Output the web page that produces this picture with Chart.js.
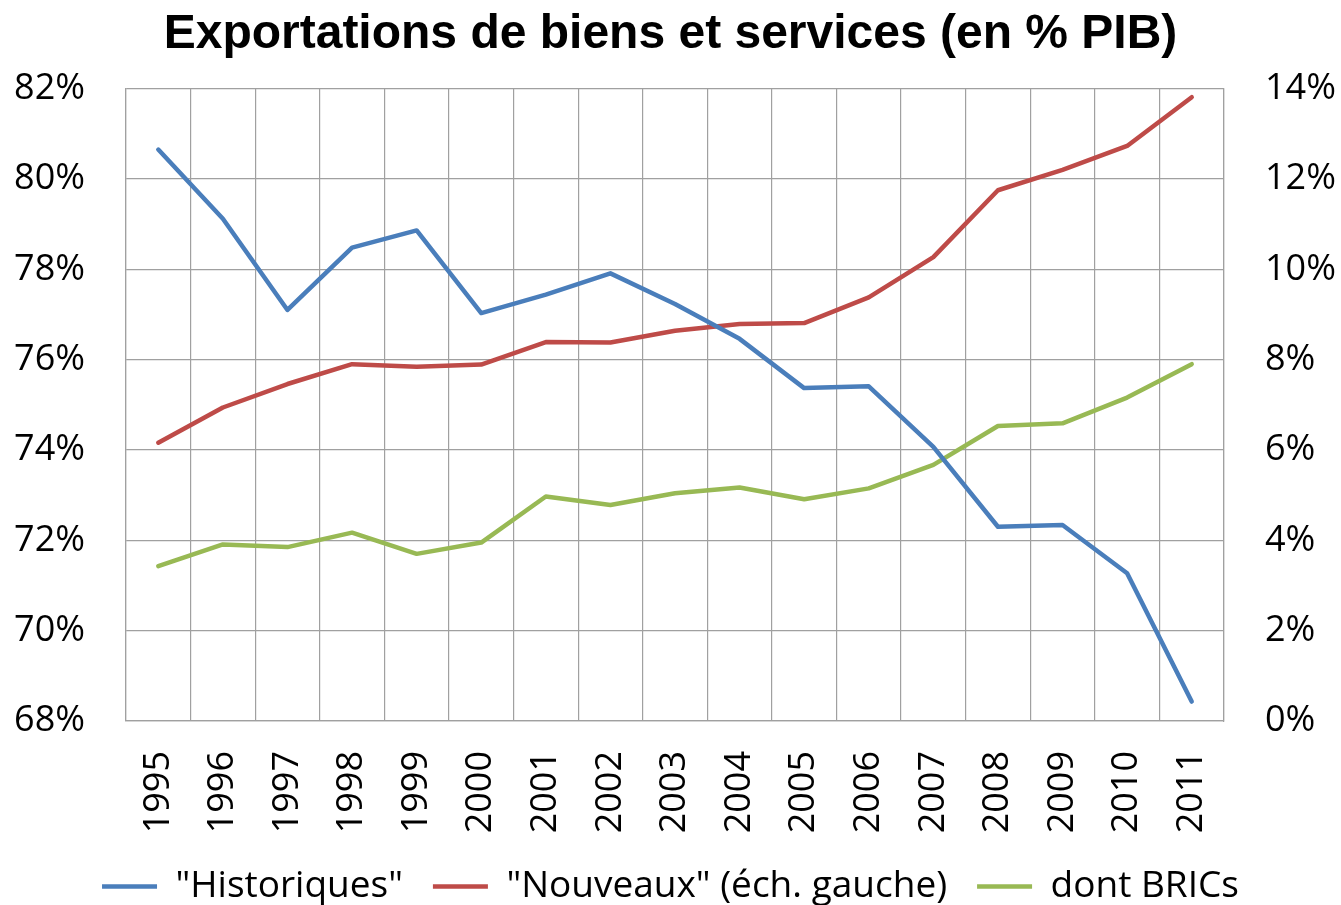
<!DOCTYPE html>
<html lang="fr">
<head>
<meta charset="utf-8">
<title>Exportations de biens et services</title>
<script src="https://cdn.jsdelivr.net/npm/chart.js@4.4.1/dist/chart.umd.min.js"></script>
<style>
  html, body { margin: 0; padding: 0; background: #fff; }
</style>
</head>
<body>
<canvas id="exportChart" width="1341" height="905"></canvas>
<script>
const years = ['1995', '1996', '1997', '1998', '1999', '2000', '2001', '2002', '2003',
  '2004', '2005', '2006', '2007', '2008', '2009', '2010', '2011'];

// right scale (%)
const historiques = [12.65, 11.12, 9.10, 10.48, 10.86, 9.03, 9.44, 9.91, 9.23,
  8.46, 7.37, 7.41, 6.07, 4.30, 4.34, 3.27, 0.43];
// left scale (%)
const nouveaux = [74.16, 74.94, 75.46, 75.90, 75.84, 75.89, 76.39, 76.38, 76.64,
  76.79, 76.81, 77.38, 78.27, 79.75, 80.20, 80.73, 81.81];
// right scale (%)
const brics = [3.43, 3.91, 3.85, 4.17, 3.70, 3.95, 4.97, 4.78, 5.04,
  5.17, 4.91, 5.15, 5.67, 6.53, 6.59, 7.16, 7.90];

const leftTicks = [68, 70, 72, 74, 76, 78, 80, 82];
const rightTicks = [0, 2, 4, 6, 8, 10, 12, 14];

const gridColor = '#a0a0a0';
const tickFont = { family: 'Open Sans', size: 36 };

Chart.defaults.color = '#000';

const exportCanvas = document.querySelector('#exportChart');

function serie(label, data, axis, color) {
  return {
    label: label,
    data: data,
    yAxisID: axis,
    borderColor: color,
    backgroundColor: color,
    borderWidth: 4.5,
    pointRadius: 0,
    pointStyle: 'line',
    tension: 0,
    borderCapStyle: 'round',
    borderJoinStyle: 'round'
  };
}

const exportChart = new Chart(exportCanvas, {
  type: 'line',
  data: {
    labels: years,
    datasets: [
      serie('"Historiques"', historiques, 'y1', '#4A7EBB'),
      serie('"Nouveaux" (éch. gauche)', nouveaux, 'y', '#BE4B48'),
      serie('dont BRICs', brics, 'y1', '#98B954')
    ]
  },
  options: {
    responsive: false,
    animation: false,
    layout: {
      padding: { top: 0, left: 0, right: 0, bottom: -10 }
    },
    scales: {
      x: {
        offset: true,
        grid: { offset: true, color: gridColor, lineWidth: 1.2, drawTicks: false },
        border: { color: gridColor, width: 1.2 },
        ticks: { minRotation: 90, maxRotation: 90, padding: 30, font: tickFont },
        afterFit: function(scale) { scale.height = 117; }
      },
      y: {
        position: 'left',
        min: leftTicks[0],
        max: leftTicks[leftTicks.length - 1],
        grid: { color: gridColor, lineWidth: 1.2, drawTicks: false },
        border: { color: gridColor, width: 1.2 },
        ticks: {
          stepSize: leftTicks[1] - leftTicks[0],
          padding: 41,
          font: tickFont,
          callback: function(v) { return v + '%'; }
        },
        afterFit: function(scale) { scale.width = 126; }
      },
      y1: {
        position: 'right',
        min: rightTicks[0],
        max: rightTicks[rightTicks.length - 1],
        grid: { drawOnChartArea: false, drawTicks: false },
        border: { color: gridColor, width: 1.2 },
        ticks: {
          stepSize: rightTicks[1] - rightTicks[0],
          padding: 41,
          font: tickFont,
          callback: function(v) { return v + '%'; }
        },
        afterFit: function(scale) { scale.width = 117; }
      }
    },
    plugins: {
      title: {
        display: true,
        text: 'Exportations de biens et services (en % PIB)',
        color: '#000',
        font: { family: 'Liberation Sans', size: 48, weight: 'bold', lineHeight: 1.2 },
        padding: { top: 6, bottom: 25 }
      },
      legend: {
        position: 'bottom',
        labels: {
          usePointStyle: true,
          pointStyle: 'line',
          pointStyleWidth: 55,
          padding: 30,
          font: { family: 'Open Sans', size: 37 },
          color: '#000'
        }
      },
      tooltip: { enabled: false }
    }
  }
});
</script>
</body>
</html>
